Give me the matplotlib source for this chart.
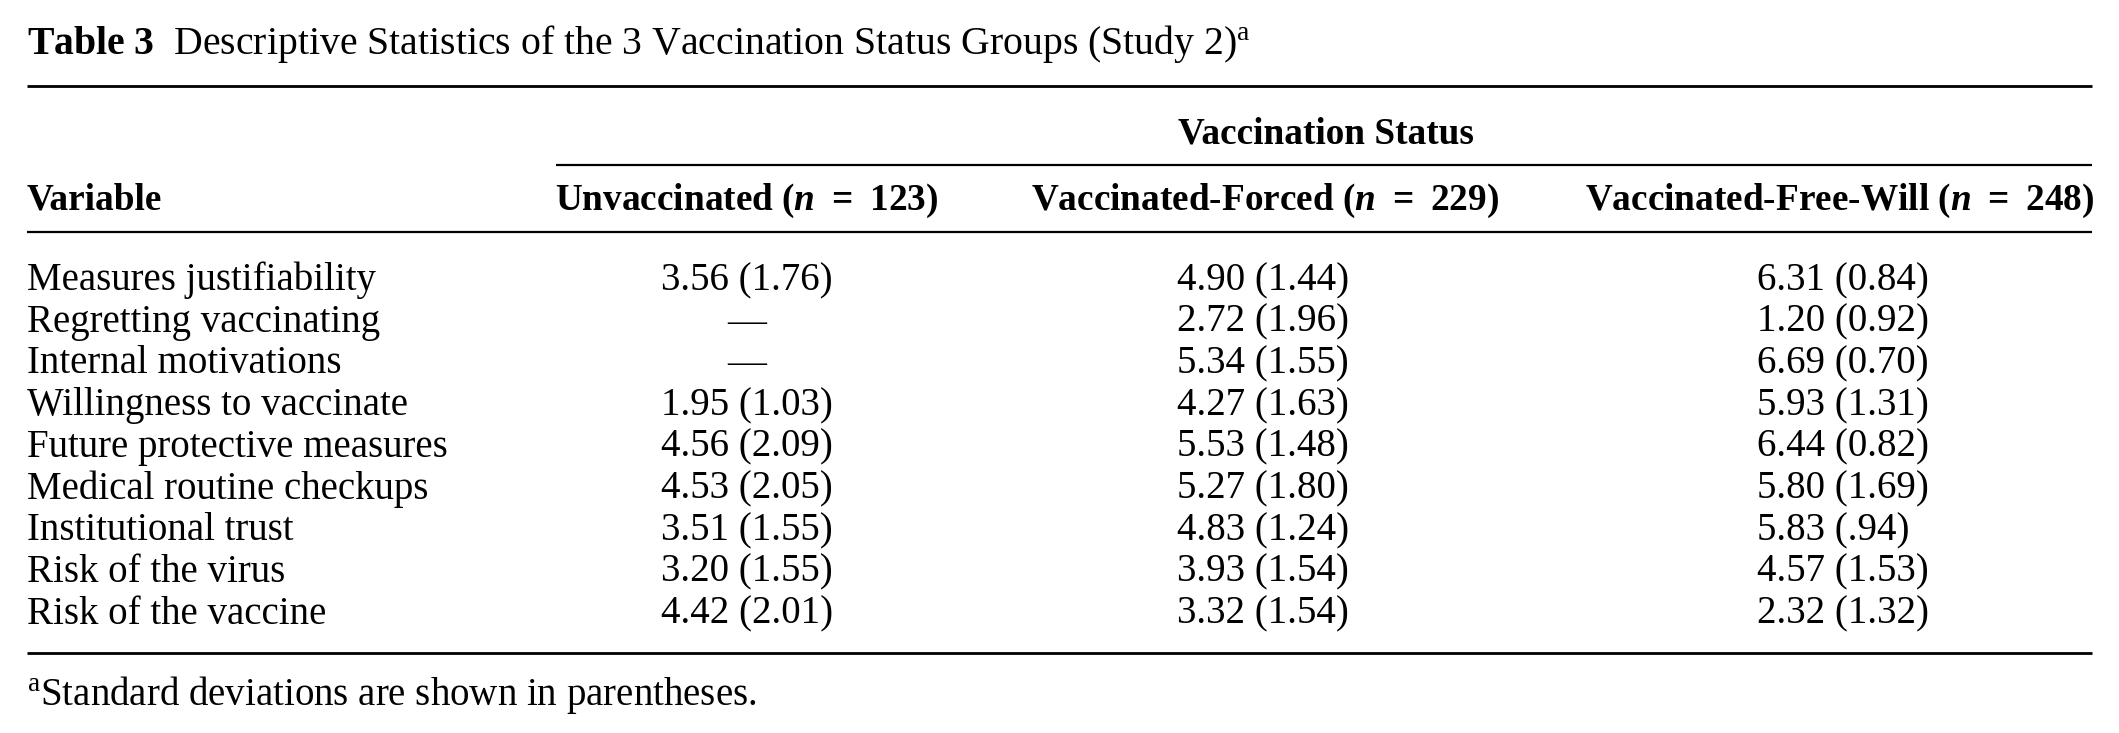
import matplotlib
matplotlib.use("Agg")
import matplotlib.pyplot as plt

plt.rcParams["font.family"] = ["Liberation Serif", "DejaVu Serif"]
plt.rcParams["mathtext.fontset"] = "custom"
plt.rcParams["mathtext.rm"] = "Liberation Serif"
plt.rcParams["mathtext.it"] = "Liberation Serif:italic"
plt.rcParams["mathtext.bf"] = "Liberation Serif:bold"
plt.rcParams["mathtext.bfit"] = "Liberation Serif:italic:bold"

# Table content
title_bold = "Table 3"
title_text = "Descriptive Statistics of the 3 Vaccination Status Groups (Study 2)"
spanner = "Vaccination Status"
groups = ["Unvaccinated", "Vaccinated-Forced", "Vaccinated-Free-Will"]
group_n = [123, 229, 248]
variables = [
    "Measures justifiability",
    "Regretting vaccinating",
    "Internal motivations",
    "Willingness to vaccinate",
    "Future protective measures",
    "Medical routine checkups",
    "Institutional trust",
    "Risk of the virus",
    "Risk of the vaccine",
]
unvaccinated = ["3.56 (1.76)", None, None, "1.95 (1.03)", "4.56 (2.09)",
                "4.53 (2.05)", "3.51 (1.55)", "3.20 (1.55)", "4.42 (2.01)"]
vacc_forced = ["4.90 (1.44)", "2.72 (1.96)", "5.34 (1.55)", "4.27 (1.63)",
               "5.53 (1.48)", "5.27 (1.80)", "4.83 (1.24)", "3.93 (1.54)",
               "3.32 (1.54)"]
vacc_free = ["6.31 (0.84)", "1.20 (0.92)", "6.69 (0.70)", "5.93 (1.31)",
             "6.44 (0.82)", "5.80 (1.69)", "5.83 (.94)", "4.57 (1.53)",
             "2.32 (1.32)"]
footnote = "Standard deviations are shown in parentheses."

W, H = 2119, 733
fig = plt.figure(figsize=(W / 100, H / 100), dpi=100)
ax = fig.add_axes([0, 0, 1, 1])
ax.set_xlim(0, W)
ax.set_ylim(H, 0)
ax.axis("off")

fs = 28
fs_bold = 26.8
left, right = 27, 2092
col_center = [747, 1265, 1840]
col_left = [661, 1177, 1757]

# title
ax.text(left, 54, "$\\mathbf{" + title_bold.replace(" ", "\\ ") + "}$  "
        + title_text + "$^{\\mathrm{a}}$",
        fontsize=28.6, va="baseline", ha="left")

# rules
ax.hlines(86, left, right, color="black", lw=2.0)
ax.hlines(165, 556, right, color="black", lw=1.6)
ax.hlines(232, left, right, color="black", lw=1.6)
ax.hlines(653, left, right, color="black", lw=2.0)

# header
ax.text(1326, 143, spanner, fontsize=fs_bold, fontweight="bold",
        ha="center", va="baseline")
ax.text(left, 210, "Variable", fontsize=fs_bold, fontweight="bold",
        ha="left", va="baseline")
for g, n, cx in zip(groups, group_n, col_center):
    label = g + " ($\\mathbfit{n}$ \u2009=\u2009 " + str(n) + ")"
    ax.text(cx, 210, label, fontsize=fs_bold, fontweight="bold",
            ha="center", va="baseline")

# body
row0, step = 290, 41.7
columns = [unvaccinated, vacc_forced, vacc_free]
for i, var in enumerate(variables):
    y = row0 + i * step
    ax.text(left, y, var, fontsize=fs, ha="left", va="baseline")
    for j, col in enumerate(columns):
        val = col[i]
        if val is None:
            ax.text(col_center[j], y, "\u2014", fontsize=fs,
                    ha="center", va="baseline")
        else:
            ax.text(col_left[j], y, val, fontsize=fs,
                    ha="left", va="baseline")

# footnote
ax.text(left, 705, "$^{\\mathrm{a}}$" + footnote, fontsize=fs,
        ha="left", va="baseline")

fig.savefig("out.png", dpi=100, facecolor="white")
